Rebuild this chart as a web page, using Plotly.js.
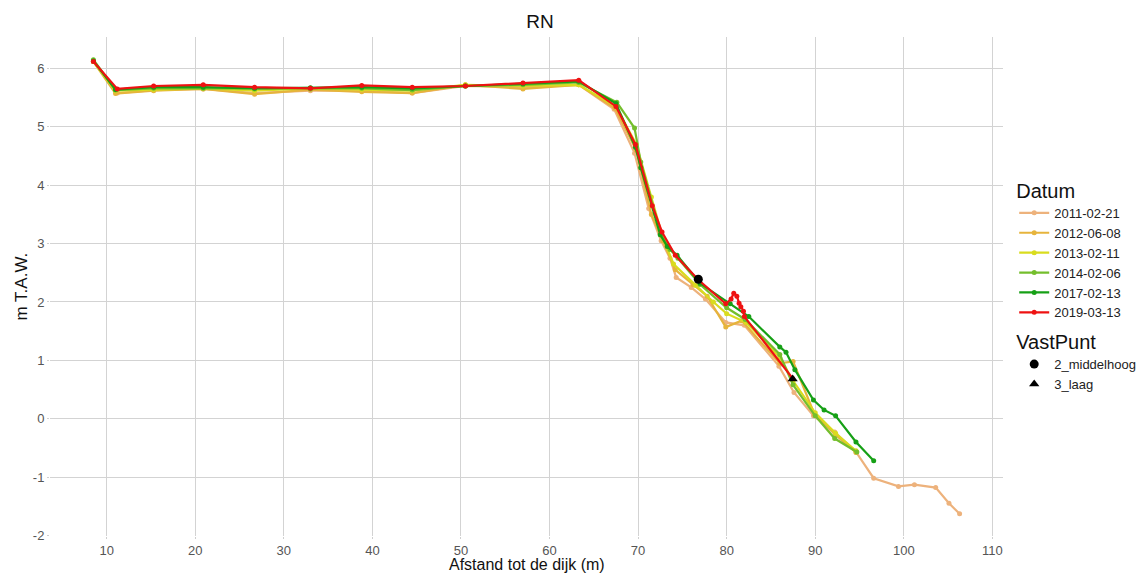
<!DOCTYPE html>
<html>
<head>
<meta charset="utf-8">
<script src="https://cdn.plot.ly/plotly-3.0.1.min.js"></script>
<style>html,body{margin:0;padding:0;background:#fff;}#chart{width:1137px;height:573px;}</style>
</head>
<body>
<div id="chart"></div>
<script>
// ---- data ----
const datums = ["2011-02-21", "2012-06-08", "2013-02-11", "2014-02-06", "2017-02-13", "2019-03-13"];
const colors = ["#EDB27C", "#E6B43C", "#D9DC1E", "#74BE2C", "#16A016", "#EE1212"];

const x2011 = [8.5, 11.2, 15.3, 20.9, 26.7, 33.0, 38.8, 44.5, 50.5, 57.0, 63.3, 67.3, 69.6, 71.2, 72.6, 73.6, 74.3, 76.0, 77.6, 79.9, 82.0, 85.9, 87.6, 89.8, 92.2, 94.6, 96.6, 99.4, 101.2, 103.6, 105.1, 106.3];
const y2011 = [6.12, 5.58, 5.63, 5.65, 5.58, 5.62, 5.62, 5.58, 5.70, 5.68, 5.72, 5.30, 4.55, 3.60, 3.05, 2.75, 2.42, 2.25, 2.05, 1.65, 1.60, 0.90, 0.45, 0.05, -0.23, -0.57, -1.02, -1.16, -1.13, -1.18, -1.45, -1.63];

const x2012 = [8.5, 11.0, 15.3, 20.9, 26.7, 33.0, 38.8, 44.5, 50.5, 57.0, 63.3, 67.4, 69.8, 71.5, 72.8, 74.2, 76.2, 77.8, 79.9, 81.7, 86.0, 87.5, 89.9, 92.3, 94.6];
const y2012 = [6.12, 5.57, 5.62, 5.65, 5.56, 5.64, 5.60, 5.58, 5.72, 5.65, 5.72, 5.32, 4.60, 3.50, 3.05, 2.55, 2.30, 2.10, 1.57, 1.68, 0.95, 0.98, 0.08, -0.28, -0.58];

const x2013 = [8.5, 11.0, 15.3, 20.9, 26.7, 33.0, 38.8, 44.5, 50.5, 57.0, 63.3, 67.5, 69.8, 71.5, 72.8, 74.0, 76.5, 78.5, 80.0, 82.2, 86.0, 87.5, 90.0, 92.3, 94.6];
const y2013 = [6.12, 5.62, 5.64, 5.66, 5.62, 5.66, 5.64, 5.62, 5.72, 5.70, 5.72, 5.35, 4.70, 3.80, 3.10, 2.65, 2.28, 2.00, 1.80, 1.65, 1.05, 0.65, 0.10, -0.25, -0.55];

const x2014 = [8.5, 11.0, 15.3, 20.9, 26.7, 33.0, 38.8, 44.5, 50.5, 57.0, 63.3, 67.6, 69.6, 70.3, 72.6, 73.6, 74.5, 77.0, 80.0, 82.1, 86.0, 87.5, 90.0, 92.2, 94.7];
const y2014 = [6.15, 5.63, 5.66, 5.66, 5.65, 5.65, 5.66, 5.63, 5.70, 5.72, 5.76, 5.42, 4.98, 4.40, 3.15, 2.90, 2.75, 2.30, 1.90, 1.70, 1.10, 0.58, 0.05, -0.34, -0.57];

const x2017 = [8.5, 11.0, 15.3, 20.9, 26.7, 33.0, 38.8, 44.5, 50.5, 57.0, 63.3, 67.5, 69.7, 70.3, 72.5, 73.3, 74.4, 77.0, 80.4, 82.5, 86.0, 86.7, 87.7, 89.8, 91.0, 92.3, 94.6, 96.6];
const y2017 = [6.13, 5.64, 5.68, 5.68, 5.66, 5.67, 5.68, 5.66, 5.70, 5.74, 5.78, 5.40, 4.65, 4.30, 3.15, 2.95, 2.80, 2.32, 1.97, 1.75, 1.23, 1.14, 0.84, 0.32, 0.15, 0.05, -0.40, -0.72];

const x2019 = [8.5, 11.2, 15.3, 20.9, 26.7, 33.0, 38.8, 44.5, 50.5, 57.0, 63.3, 67.5, 69.7, 71.6, 72.7, 74.2, 76.8, 79.9, 80.5, 80.8, 81.15, 81.4, 81.6, 81.9, 82.0, 87.45];
const y2019 = [6.12, 5.65, 5.70, 5.72, 5.68, 5.66, 5.71, 5.68, 5.70, 5.75, 5.80, 5.35, 4.70, 3.65, 3.20, 2.80, 2.38, 1.97, 2.05, 2.15, 2.10, 1.98, 1.92, 1.84, 1.75, 0.69];

const vastNames = ["2_middelhoog", "3_laag"];
const vastX = [76.8, 87.45];
const vastY = [2.39, 0.68];
const vastSymbols = ["circle", "triangle-up"];

const xTicks = [10, 20, 30, 40, 50, 60, 70, 80, 90, 100, 110];
const yTicks = [-2, -1, 0, 1, 2, 3, 4, 5, 6];
const xTitle = "Afstand tot de dijk (m)";
const yTitle = "m T.A.W.";

// ---- traces ----
const series = [[x2011, y2011], [x2012, y2012], [x2013, y2013], [x2014, y2014], [x2017, y2017], [x2019, y2019]];
const traces = series.map((s, i) => ({
  type: "scatter", mode: "lines+markers",
  x: s[0], y: s[1], name: datums[i],
  line: {color: colors[i], width: 2.2},
  marker: {color: colors[i], size: 5},
  legend: "legend"
}));
vastNames.forEach((n, i) => {
  traces.push({
    type: "scatter", mode: "markers",
    x: [vastX[i]], y: [vastY[i]], name: n,
    marker: {color: "#000", size: 9, symbol: vastSymbols[i]},
    legend: "legend2"
  });
});

const axisCommon = {
  showgrid: true, gridcolor: "#d3d3d3", gridwidth: 1,
  zeroline: false, showline: false,
  ticks: "outside", ticklen: 2, tickcolor: "#cfcfcf",
  tickfont: {family: "Liberation Sans, Arial, sans-serif", size: 13, color: "#555"},
  automargin: false
};

const layout = {
  width: 1137, height: 573,
  margin: {l: 50, r: 134, t: 37, b: 37},
  paper_bgcolor: "#fff", plot_bgcolor: "#fff",
  font: {family: "Liberation Sans, Arial, sans-serif"},
  title: {text: "RN", x: 0.475, xanchor: "center", y: 0.962, yanchor: "middle",
          font: {size: 19, color: "#111"}},
  xaxis: Object.assign({}, axisCommon, {
    range: [3.6, 111.2], tickvals: xTicks, ticktext: xTicks.map(String)
  }),
  yaxis: Object.assign({}, axisCommon, {
    range: [-2.01, 6.54], tickvals: yTicks, ticktext: yTicks.map(String)
  }),
  annotations: [
    {text: xTitle, xref: "paper", yref: "paper", x: 0.5, y: -0.0581,
     xanchor: "center", yanchor: "middle", showarrow: false,
     font: {size: 16, color: "#111"}},
    {text: yTitle, xref: "paper", yref: "paper", x: -0.0294, y: 0.5,
     xanchor: "center", yanchor: "middle", textangle: -90, showarrow: false,
     font: {size: 17, color: "#111"}}
  ],
  showlegend: true,
  legend: {
    title: {text: "Datum", font: {size: 20, color: "#111"}},
    xref: "container", yref: "container",
    x: 0.892, xanchor: "left", y: 0.70, yanchor: "top",
    font: {size: 13, color: "#222"}, bgcolor: "rgba(0,0,0,0)",
    itemwidth: 30, tracegroupgap: 0
  },
  legend2: {
    title: {text: "VastPunt", font: {size: 20, color: "#111"}},
    xref: "container", yref: "container",
    x: 0.892, xanchor: "left", y: 0.436, yanchor: "top",
    font: {size: 13, color: "#222"}, bgcolor: "rgba(0,0,0,0)",
    itemwidth: 30
  }
};

Plotly.newPlot("chart", traces, layout, {displayModeBar: false, staticPlot: true});
</script>
</body>
</html>
